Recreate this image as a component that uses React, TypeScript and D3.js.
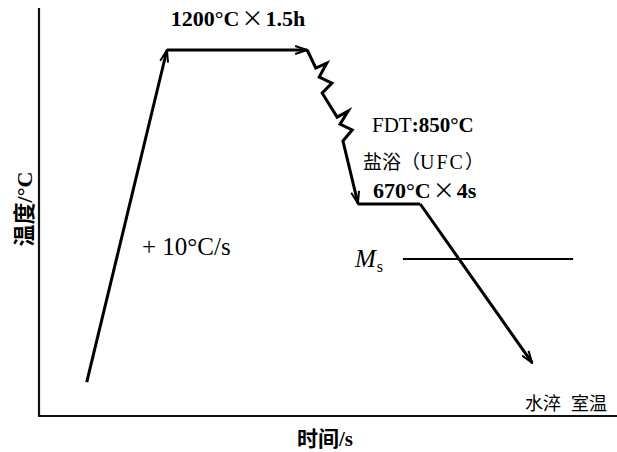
import React from "react";
import * as d3 from "d3";

// Schematic hot-rolling / cooling schedule (time in arbitrary units, temperature in °C)
const rampTime = [8.1, 22.0];
const rampTemp = [57, 1200];

const soakTime = [22.0, 46.3];
const soakTemp = [1200, 1200];

// rolling passes drawn as two break (zigzag) marks on the cooling leg
const rollTime = [46.3, 47.8, 49.7, 48.4, 50.6, 48.9, 51.5, 53.4, 52.0, 54.1, 52.5, 55.1];
const rollTemp = [1200, 1138, 1155, 1107, 1086, 1052, 969, 990, 945, 925, 887, 672];

const holdTime = [55.1, 65.9];
const holdTemp = [670, 670];

const quenchTime = [65.9, 85.3];
const quenchTemp = [670, 123];

const msTime = [62.9, 92.4];
const msTemp = [481, 481];

const W = 617;
const H = 452;

const x = d3.scaleLinear().domain([0, 100]).range([40, 617]);
const y = d3.scaleLinear().domain([0, 1200]).range([398.7, 50]);

const zip = (ts: number[], vs: number[]) => ts.map((t, i) => [t, vs[i]] as [number, number]);
const line = d3
  .line<[number, number]>()
  .x((d) => x(d[0]))
  .y((d) => y(d[1]));

const serif = "'Liberation Serif', 'Times New Roman', serif";
const cjk = "'Noto Sans CJK SC', sans-serif";

export default function App() {
  const arrowed = [
    zip(rampTime, rampTemp),
    zip(soakTime, soakTemp),
    zip(rollTime, rollTemp),
    zip(quenchTime, quenchTemp),
  ];
  return (
    <svg
      width={W}
      height={H}
      style={{ position: "absolute", left: 0, top: 0, background: "#fff" }}
    >
      <defs>
        <marker
          id="arr"
          viewBox="0 0 14 10"
          refX="13"
          refY="5"
          markerWidth="14"
          markerHeight="10"
          markerUnits="userSpaceOnUse"
          orient="auto"
        >
          <path d="M1,1 L13,5 L1,9" fill="none" stroke="#000" strokeWidth="2" />
        </marker>
      </defs>

      {/* axes */}
      <line x1={39} y1={8} x2={39} y2={416} stroke="#111" strokeWidth={2.2} />
      <line x1={38} y1={416} x2={617} y2={416} stroke="#111" strokeWidth={2.2} />

      {/* Ms line */}
      <path d={line(zip(msTime, msTemp)) || ""} stroke="#000" strokeWidth={2} fill="none" />

      {/* process curve */}
      {arrowed.map((pts, i) => (
        <path
          key={i}
          d={line(pts) || ""}
          stroke="#000"
          strokeWidth={3}
          fill="none"
          strokeLinejoin="miter"
          markerEnd="url(#arr)"
        />
      ))}
      <path d={line(zip(holdTime, holdTemp)) || ""} stroke="#000" strokeWidth={3} fill="none" />

      {/* labels */}
      <text x={238} y={26} textAnchor="middle" fontFamily={serif} fontWeight="bold" fontSize={22}>
        1200°C<tspan fontFamily={cjk} fontWeight="normal" dx={2}>×</tspan>
        <tspan dx={2}>1.5h</tspan>
      </text>

      <text x={372} y={132} fontFamily={serif} fontSize={21}>
        FDT<tspan fontWeight="bold">:850°C</tspan>
      </text>

      <text x={363} y={169} fontFamily={cjk} fontSize={19}>
        盐浴（<tspan fontFamily={serif} fontSize={20} letterSpacing={2}>UFC</tspan>）
      </text>

      <text x={373} y={198} fontFamily={serif} fontWeight="bold" fontSize={22}>
        670°C<tspan fontFamily={cjk} fontWeight="normal" dx={2}>×</tspan>
        <tspan dx={2}>4s</tspan>
      </text>

      <text x={142} y={255} fontFamily={serif} fontSize={25}>
        + 10°C/s
      </text>

      <text x={355} y={267} fontFamily={serif} fontSize={25} fontStyle="italic">
        M
        <tspan fontStyle="normal" fontSize={16} dy={5} dx={1}>
          s
        </tspan>
      </text>

      <text y={410} fontFamily={cjk} fontSize={18}>
        <tspan x={525}>水淬</tspan>
        <tspan x={571}>室温</tspan>
      </text>

      <text x={325} y={446} textAnchor="middle" fontFamily={serif} fontWeight="bold" fontSize={21}>
        <tspan fontFamily={cjk}>时间</tspan>/s
      </text>

      <text
        transform="translate(32,209) rotate(-90)"
        textAnchor="middle"
        fontFamily={serif}
        fontWeight="bold"
        fontSize={22}
      >
        <tspan fontFamily={cjk}>温度</tspan>/°C
      </text>
    </svg>
  );
}
